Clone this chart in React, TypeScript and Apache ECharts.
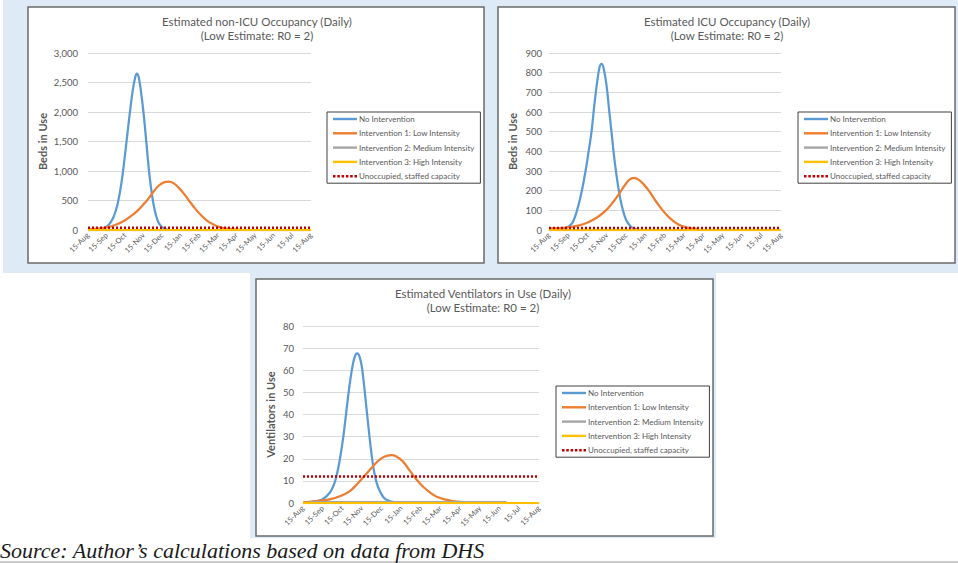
import React, { useEffect, useRef } from "react";
import * as echarts from "echarts";

// x values are months after 15-Aug
const monthLabels = ["15-Aug", "15-Sep", "15-Oct", "15-Nov", "15-Dec", "15-Jan", "15-Feb", "15-Mar", "15-Apr", "15-May", "15-Jun", "15-Jul", "15-Aug"];
const seriesNames = ["No Intervention", "Intervention 1: Low Intensity", "Intervention 2: Medium Intensity", "Intervention 3: High Intensity", "Unoccupied, staffed capacity"];

const nonIcuNoIntervention = [[0, 0], [0.5, 5], [0.8, 25], [1.0, 57], [1.2, 120], [1.4, 240], [1.6, 450], [1.8, 800], [2.0, 1300], [2.2, 1850], [2.4, 2350], [2.55, 2600], [2.63, 2650], [2.72, 2600], [2.85, 2350], [3.0, 1950], [3.15, 1450], [3.3, 950], [3.45, 580], [3.6, 320], [3.75, 160], [3.9, 75], [4.1, 25], [4.3, 5], [4.45, 0]];
const nonIcuLow = [[0, 10], [0.5, 22], [1.0, 45], [1.5, 90], [2.0, 165], [2.5, 280], [2.8, 370], [3.0, 440], [3.2, 510], [3.5, 640], [3.8, 750], [4.1, 810], [4.33, 820], [4.6, 795], [4.9, 710], [5.2, 600], [5.5, 470], [5.8, 350], [6.1, 245], [6.4, 160], [6.7, 100], [7.0, 58], [7.4, 28], [7.8, 12], [8.2, 4]];
const nonIcuMedium = [[0, 0], [12, 0]];
const nonIcuHigh = [[0, 0], [12, 0]];
const nonIcuCapacity = [[0, 40], [12, 40]];

const icuNoIntervention = [[0, 0], [0.5, 2], [0.9, 12], [1.2, 35], [1.45, 100], [1.7, 200], [1.89, 300], [2.05, 400], [2.2, 500], [2.35, 640], [2.5, 760], [2.62, 830], [2.72, 845], [2.82, 825], [2.97, 740], [3.1, 620], [3.23, 500], [3.36, 380], [3.49, 280], [3.62, 195], [3.75, 130], [3.9, 75], [4.05, 40], [4.3, 12], [4.6, 2]];
const icuLow = [[0, 8], [0.5, 10], [1.0, 14], [1.5, 22], [2.0, 38], [2.5, 65], [3.0, 105], [3.3, 140], [3.6, 180], [3.9, 225], [4.15, 255], [4.39, 265], [4.65, 255], [4.9, 232], [5.2, 195], [5.5, 150], [5.8, 110], [6.1, 75], [6.4, 48], [6.7, 28], [7.0, 16], [7.4, 8], [7.7, 4]];
const icuMedium = [[0, 0], [12, 0]];
const icuHigh = [[0, 0], [12, 0]];
const icuCapacity = [[0, 10], [12, 10]];

const ventNoIntervention = [[0, 0], [0.45, 0.5], [0.95, 1.5], [1.35, 4.5], [1.6, 9], [1.75, 14], [1.9, 21], [2.05, 30], [2.2, 41], [2.35, 52], [2.5, 61], [2.63, 66], [2.75, 67.6], [2.88, 66], [3.0, 61], [3.12, 52], [3.25, 41], [3.38, 30], [3.5, 21], [3.62, 14], [3.75, 9], [3.9, 5.5], [4.1, 2.5], [4.35, 1], [4.7, 0.3]];
const ventLow = [[0, 0.3], [0.7, 0.9], [1.35, 1.6], [2.0, 3.5], [2.4, 5.5], [2.75, 8.5], [3.05, 11.5], [3.35, 14.5], [3.7, 18], [4.0, 20.3], [4.3, 21.4], [4.5, 21.6], [4.75, 21], [5.1, 18.6], [5.4, 15], [5.65, 12], [5.9, 9.3], [6.15, 7], [6.5, 4.5], [6.8, 2.8], [7.2, 1.6], [7.6, 0.9], [8.15, 0.4]];
const ventMedium = [[0.3, 0.4], [10.35, 0.4]];
const ventHigh = [[0, 0], [12, 0]];
const ventCapacity = [[0, 12], [12, 12]];

const FONT = "Lato, 'Liberation Sans', sans-serif";
const TEXT = "#595959";
const COLORS = ["#5B9BD5", "#ED7D31", "#A5A5A5", "#FFC000", "#C00000"];

const SOLID_ICON = "path://M0 0H24V2.4H0Z";
const DOT_ICON = "path://M0 0h2.5v2.5h-2.5zM4.3 0h2.5v2.5h-2.5zM8.6 0h2.5v2.5h-2.5zM12.9 0h2.5v2.5h-2.5zM17.2 0h2.5v2.5h-2.5zM21.5 0h2.5v2.5h-2.5z";

const panels = [
  {
    title: "Estimated non-ICU Occupancy (Daily)\n(Low Estimate: R0 = 2)",
    titleX: 257, titleY: 15,
    grid: { left: 88, top: 53, width: 223, height: 177 },
    yMax: 3000, yInterval: 500, yName: "Beds in Use", nameGap: 40, labelMargin: 10, comma: true,
    legend: { left: 327, top: 112 },
    series: [nonIcuNoIntervention, nonIcuLow, nonIcuMedium, nonIcuHigh, nonIcuCapacity],
  },
  {
    title: "Estimated ICU Occupancy (Daily)\n(Low Estimate: R0 = 2)",
    titleX: 727, titleY: 15,
    grid: { left: 549, top: 53, width: 232, height: 177 },
    yMax: 900, yInterval: 100, yName: "Beds in Use", nameGap: 31, labelMargin: 7, comma: false,
    legend: { left: 798, top: 112 },
    series: [icuNoIntervention, icuLow, icuMedium, icuHigh, icuCapacity],
  },
  {
    title: "Estimated Ventilators in Use (Daily)\n(Low Estimate: R0 = 2)",
    titleX: 483, titleY: 287,
    grid: { left: 303, top: 326, width: 236, height: 177 },
    yMax: 80, yInterval: 10, yName: "Ventilators in Use", nameGap: 27, labelMargin: 9, comma: false,
    legend: { left: 556, top: 386 },
    series: [ventNoIntervention, ventLow, ventMedium, ventHigh, ventCapacity],
  },
];

function buildOption() {
  const grids: any[] = [];
  const xAxes: any[] = [];
  const yAxes: any[] = [];
  const series: any[] = [];
  const legends: any[] = [];
  const graphics: any[] = [
    { type: "rect", shape: { x: 3, y: 0, width: 955, height: 273 }, style: { fill: "#DEEAF6" }, z: -10 },
    { type: "rect", shape: { x: 250, y: 272, width: 466, height: 266 }, style: { fill: "#DEEAF6" }, z: -10 },
    { type: "rect", shape: { x: 28, y: 7, width: 456, height: 256 }, style: { fill: "#fff", stroke: "#6b6b6b", lineWidth: 1.5 }, z: -9 },
    { type: "rect", shape: { x: 498, y: 7, width: 457, height: 256 }, style: { fill: "#fff", stroke: "#6b6b6b", lineWidth: 1.5 }, z: -9 },
    { type: "rect", shape: { x: 256, y: 279, width: 457, height: 257 }, style: { fill: "#fff", stroke: "#6b6b6b", lineWidth: 1.5 }, z: -9 },
    { type: "line", shape: { x1: 0, y1: 562, x2: 958, y2: 562 }, style: { stroke: "#9a9a9a", lineWidth: 1.2 }, z: -9 },
    {
      type: "text", x: 0, y: 539,
      style: { text: "Source: Author’s calculations based on data from DHS", font: "italic 22px 'Liberation Serif', 'Times New Roman', serif", fill: "#1a1a1a", verticalAlign: "top" },
    },
  ];

  panels.forEach((p, i) => {
    grids.push({ ...p.grid, containLabel: false });
    xAxes.push({
      type: "value", gridIndex: i, min: 0, max: 12, interval: 1,
      axisLine: { show: true, lineStyle: { color: "#D9D9D9", width: 1 } },
      axisTick: { show: false },
      splitLine: { show: false },
      axisLabel: {
        rotate: 45, fontSize: 7.5, color: TEXT, fontFamily: FONT, margin: 4,
        showMinLabel: true, showMaxLabel: true,
        formatter: (v: number) => monthLabels[Math.round(v)] ?? "",
      },
    });
    yAxes.push({
      type: "value", gridIndex: i, min: 0, max: p.yMax, interval: p.yInterval,
      name: p.yName, nameLocation: "middle", nameGap: p.nameGap,
      nameTextStyle: { fontSize: 11, fontWeight: "bold", color: TEXT, fontFamily: FONT },
      axisLine: { show: false }, axisTick: { show: false },
      splitLine: { lineStyle: { color: "#D9D9D9", width: 1 } },
      axisLabel: {
        fontSize: 9.5, color: TEXT, fontFamily: FONT, margin: p.labelMargin,
        formatter: (v: number) => (p.comma ? v.toLocaleString("en-US") : String(v)),
      },
    });
    p.series.forEach((data, k) => {
      const dotted = k === 4;
      series.push({
        type: "line", name: seriesNames[k], data, xAxisIndex: i, yAxisIndex: i,
        symbol: "none", smooth: dotted || k >= 2 ? false : 0.35, silent: true,
        lineStyle: { color: COLORS[k], width: dotted ? 2.5 : 2.25, type: dotted ? [2, 2] : "solid", cap: "butt" },
        itemStyle: { color: COLORS[k] },
      });
    });
    legends.push({
      orient: "vertical", left: p.legend.left, top: p.legend.top,
      data: seriesNames.map((n, k) => ({ name: n, icon: k === 4 ? DOT_ICON : SOLID_ICON })),
      selectedMode: false,
      itemWidth: 24, itemHeight: 10, itemGap: 6.3,
      padding: [3, 6, 3, 6], borderColor: "#404040", borderWidth: 1,
      textStyle: { fontSize: 8, color: TEXT, fontFamily: FONT, padding: [0, 0, 0, -3] },
    });
    graphics.push({
      type: "text", x: p.titleX, y: p.titleY,
      style: { text: p.title, align: "center", verticalAlign: "top", fontSize: 11.5, fontFamily: FONT, fill: TEXT, lineHeight: 13.5 },
    });
  });

  return {
    animation: false,
    grid: grids,
    xAxis: xAxes,
    yAxis: yAxes,
    legend: legends,
    series,
    graphic: { elements: graphics },
  };
}

export default function App() {
  const ref = useRef<HTMLDivElement>(null);
  useEffect(() => {
    const chart = echarts.init(ref.current!, null, { renderer: "svg" });
    chart.setOption(buildOption() as any);
    return () => chart.dispose();
  }, []);
  return <div ref={ref} style={{ position: "absolute", left: 0, top: 0, width: 958, height: 563 }} />;
}
